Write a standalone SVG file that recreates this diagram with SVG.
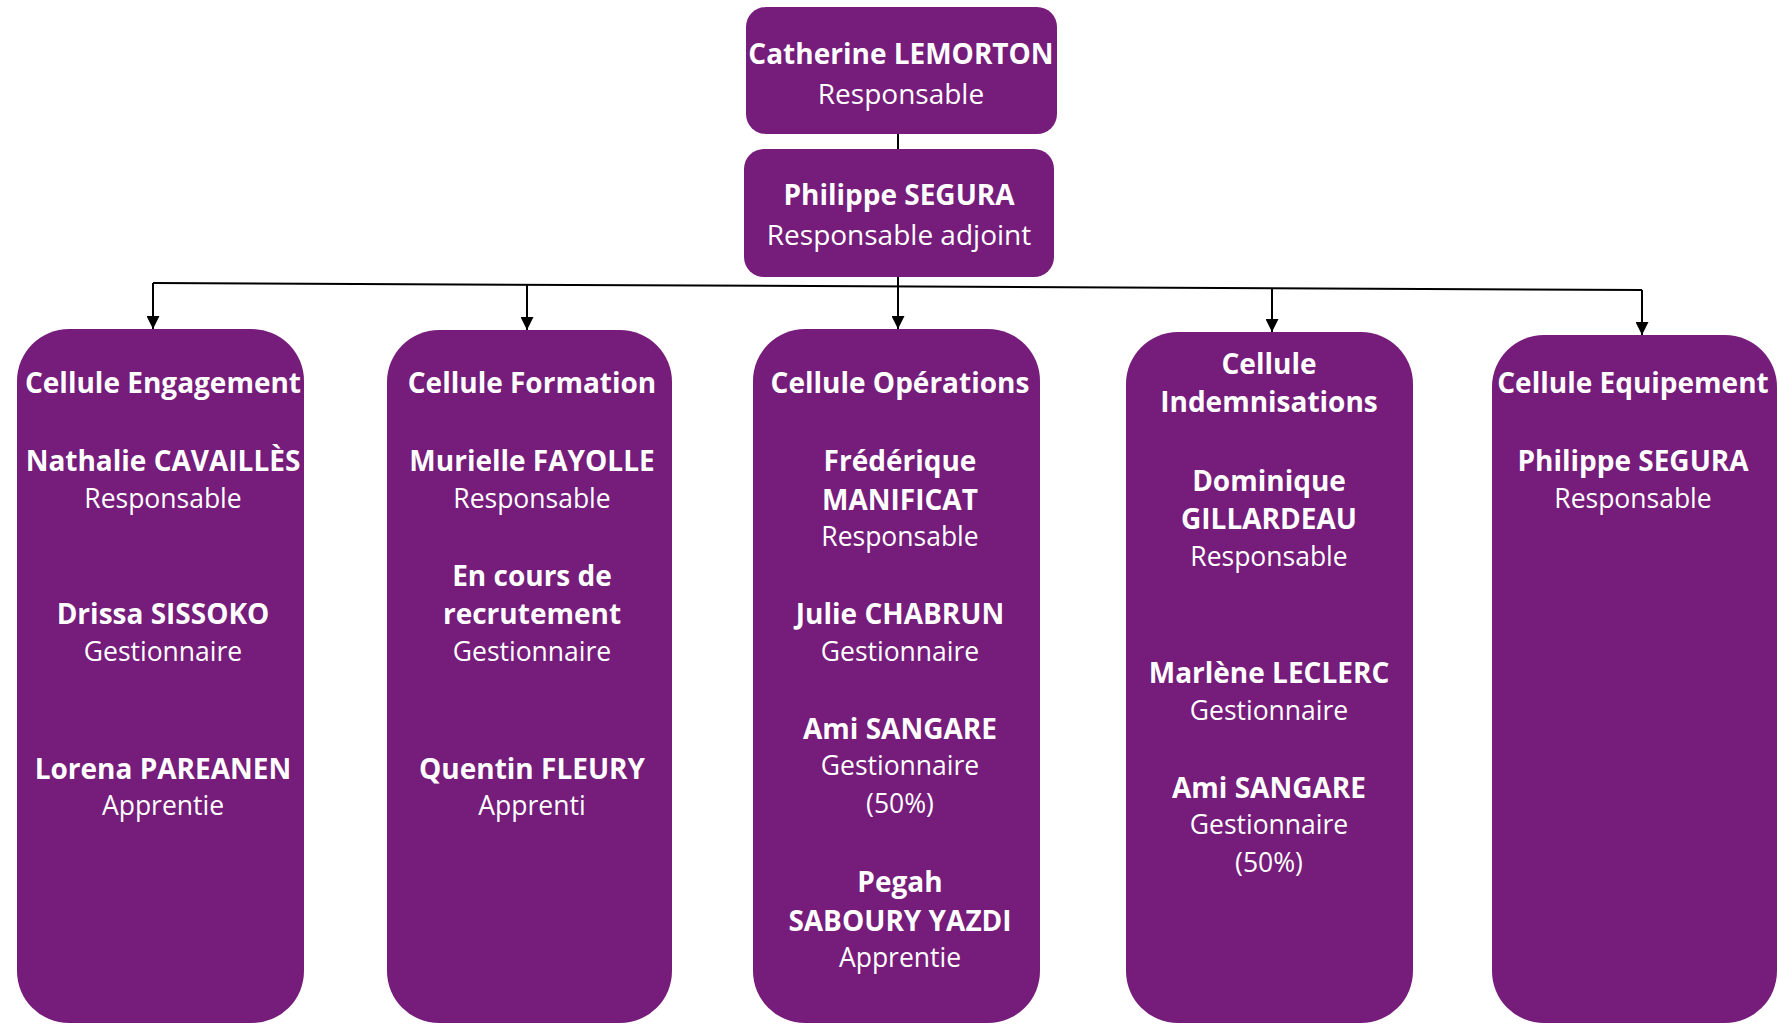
<svg xmlns="http://www.w3.org/2000/svg" width="1778" height="1024" viewBox="0 0 1778 1024">
<defs>
<style>
.box{fill:#761C7B;}
.b{font-family:"Open Sans","DejaVu Sans",sans-serif;font-weight:700;font-size:28px;fill:#ffffff;text-anchor:middle;dominant-baseline:central;}
.r{font-family:"Open Sans","DejaVu Sans",sans-serif;font-weight:400;font-size:26.5px;fill:#ffffff;text-anchor:middle;dominant-baseline:central;}
.rt{font-size:28px;}
.c{stroke:#000000;stroke-width:2;fill:none;}
</style>
<marker id="arr" viewBox="0 0 13 13" refX="13" refY="6.5" markerWidth="13" markerHeight="13" markerUnits="userSpaceOnUse" orient="auto">
<path d="M0,0 L13,6.5 L0,13 z" fill="#000000"/>
</marker>
</defs>
<rect width="1778" height="1024" fill="#ffffff"/>
<g id="connectors">
<line class="c" x1="898" y1="134" x2="898" y2="149"/>
<line class="c" x1="153" y1="283" x2="1642" y2="290"/>
<path class="c" d="M153,283 V329" marker-end="url(#arr)"/>
<path class="c" d="M527,285 V330" marker-end="url(#arr)"/>
<path class="c" d="M898,277 V329" marker-end="url(#arr)"/>
<path class="c" d="M1272,288 V332" marker-end="url(#arr)"/>
<path class="c" d="M1642,290 V335" marker-end="url(#arr)"/>
</g>
<g id="catherine">
<rect class="box" x="746" y="7" width="311" height="127" rx="20"/>
<text class="b" x="901" y="53">Catherine LEMORTON</text>
<text class="r rt" x="901" y="93">Responsable</text>
</g>
<g id="philippe">
<rect class="box" x="744" y="149" width="310" height="128" rx="20"/>
<text class="b" x="899" y="194">Philippe SEGURA</text>
<text class="r rt" x="899" y="234">Responsable adjoint</text>
</g>
<g id="engagement">
<rect class="box" x="17" y="329" width="287" height="694" rx="52"/>
<text class="b" x="163" y="382">Cellule Engagement</text>
<text class="b" x="163" y="460">Nathalie CAVAILLÈS</text>
<text class="r" x="163" y="498">Responsable</text>
<text class="b" x="163" y="613">Drissa SISSOKO</text>
<text class="r" x="163" y="651">Gestionnaire</text>
<text class="b" x="163" y="768">Lorena PAREANEN</text>
<text class="r" x="163" y="805">Apprentie</text>
</g>
<g id="formation">
<rect class="box" x="387" y="330" width="285" height="693" rx="52"/>
<text class="b" x="532" y="382">Cellule Formation</text>
<text class="b" x="532" y="460">Murielle FAYOLLE</text>
<text class="r" x="532" y="498">Responsable</text>
<text class="b" x="532" y="575">En cours de</text>
<text class="b" x="532" y="613">recrutement</text>
<text class="r" x="532" y="651">Gestionnaire</text>
<text class="b" x="532" y="768">Quentin FLEURY</text>
<text class="r" x="532" y="805">Apprenti</text>
</g>
<g id="operations">
<rect class="box" x="753" y="329" width="287" height="694" rx="52"/>
<text class="b" x="900" y="382">Cellule Opérations</text>
<text class="b" x="900" y="460">Frédérique</text>
<text class="b" x="900" y="499">MANIFICAT</text>
<text class="r" x="900" y="536">Responsable</text>
<text class="b" x="900" y="613">Julie CHABRUN</text>
<text class="r" x="900" y="651">Gestionnaire</text>
<text class="b" x="900" y="728">Ami SANGARE</text>
<text class="r" x="900" y="765">Gestionnaire</text>
<text class="r" x="900" y="803">(50%)</text>
<text class="b" x="900" y="881">Pegah</text>
<text class="b" x="900" y="920">SABOURY YAZDI</text>
<text class="r" x="900" y="957">Apprentie</text>
</g>
<g id="indemnisations">
<rect class="box" x="1126" y="332" width="287" height="691" rx="52"/>
<text class="b" x="1269" y="363">Cellule</text>
<text class="b" x="1269" y="401">Indemnisations</text>
<text class="b" x="1269" y="480">Dominique</text>
<text class="b" x="1269" y="518">GILLARDEAU</text>
<text class="r" x="1269" y="556">Responsable</text>
<text class="b" x="1269" y="672">Marlène LECLERC</text>
<text class="r" x="1269" y="710">Gestionnaire</text>
<text class="b" x="1269" y="787">Ami SANGARE</text>
<text class="r" x="1269" y="824">Gestionnaire</text>
<text class="r" x="1269" y="862">(50%)</text>
</g>
<g id="equipement">
<rect class="box" x="1492" y="335" width="285" height="688" rx="52"/>
<text class="b" x="1633" y="382">Cellule Equipement</text>
<text class="b" x="1633" y="460">Philippe SEGURA</text>
<text class="r" x="1633" y="498">Responsable</text>
</g>
</svg>
